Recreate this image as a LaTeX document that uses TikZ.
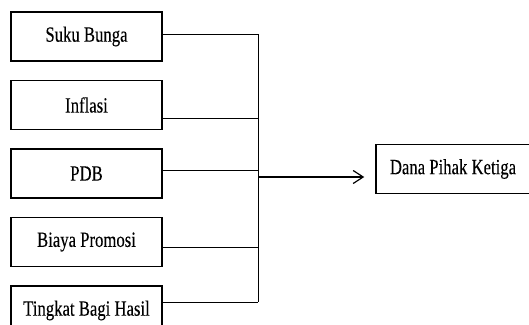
\documentclass[tikz,border=0pt]{standalone}
\usepackage{fontspec}
\setmainfont[FakeStretch=0.77,FakeBold=0.15]{Liberation Serif}
\usetikzlibrary{positioning,arrows.meta}

\begin{document}
\begin{tikzpicture}[
	x=1pt, y=-1pt,
	font=\fontsize{21.7}{24}\selectfont,
	node distance=18pt,
	varbox/.style={
		draw,
		line width=1.5pt,
		minimum height=49pt,
		minimum width=151pt,
		inner sep=0pt,
		align=center,
	},
	link/.style={line width=1pt},
	arr/.style={-{Straight Barb[length=10pt,width=13pt]}, line width=1.2pt, shorten >=11pt},
]
\useasboundingbox (0,0) rectangle (529,324);

% --- Variabel independen (kiri) ---
\node[varbox] (suku) at (86.5,36.5) {Suku Bunga};
\node[varbox, below=of suku] (inflasi) {Inflasi};
\node[varbox, below=of inflasi] (pdb) {PDB};
\node[varbox, below=of pdb] (promosi) {Biaya Promosi};
\node[varbox, below=of promosi] (bagihasil) {Tingkat Bagi Hasil};

% --- Variabel dependen (kanan) ---
\node[varbox, minimum width=154pt] (dpk) at (453,169) {Dana Pihak Ketiga};

% --- Titik sambung pada garis vertikal ---
\coordinate (j1) at (258,34);
\coordinate (j2) at (258,118);
\coordinate (j3) at (258,170);
\coordinate (j4) at (258,247);
\coordinate (j5) at (258,302);
\coordinate (jout) at (258,177);

% --- Garis dari tiap variabel ---
\draw[link] (suku.east |- j1) -- (j1);
\draw[link] (inflasi.east |- j2) -- (j2);
\draw[link] (pdb.east |- j3) -- (j3);
\draw[link] (promosi.east |- j4) -- (j4);
\draw[link] (bagihasil.east |- j5) -- (j5);
\draw[link] (j1) -- (j5);

% --- Panah ke DPK ---
\draw[arr] (jout) -- (dpk.west |- jout);

\end{tikzpicture}
\end{document}
